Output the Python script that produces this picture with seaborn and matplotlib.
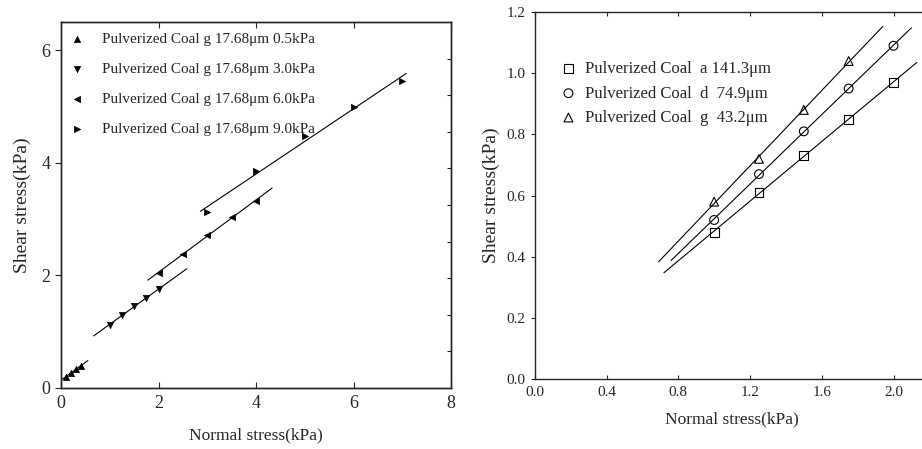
import numpy as np
import pandas as pd
import seaborn as sns
import matplotlib
matplotlib.use("Agg")
import matplotlib.pyplot as plt

# left panel: g coal at four consolidation loads
left_labels = ["Pulverized Coal g 17.68\u03bcm 0.5kPa",
               "Pulverized Coal g 17.68\u03bcm 3.0kPa",
               "Pulverized Coal g 17.68\u03bcm 6.0kPa",
               "Pulverized Coal g 17.68\u03bcm 9.0kPa"]
left_x = [[0.1, 0.2, 0.3, 0.4],
          [1.0, 1.25, 1.5, 1.75, 2.0],
          [2.0, 2.5, 3.0, 3.5, 4.0],
          [3.0, 4.0, 5.0, 6.0, 7.0]]
left_y = [[0.2, 0.27, 0.33, 0.39],
          [1.12, 1.3, 1.45, 1.6, 1.75],
          [2.04, 2.38, 2.72, 3.03, 3.32],
          [3.13, 3.85, 4.47, 4.99, 5.46]]
left_fit_range = [(-0.05, 0.55), (0.67, 2.58), (1.78, 4.33), (2.86, 7.08)]
left_markers = ["^", "v", "<", ">"]

# right panel: three coals at 0.5kPa
right_labels = ["Pulverized Coal  a 141.3\u03bcm",
                "Pulverized Coal  d  74.9\u03bcm",
                "Pulverized Coal  g  43.2\u03bcm"]
right_x = [[1.0, 1.25, 1.5, 1.75, 2.0],
           [1.0, 1.25, 1.5, 1.75, 2.0],
           [1.0, 1.25, 1.5, 1.75]]
right_y = [[0.48, 0.61, 0.73, 0.85, 0.97],
           [0.52, 0.67, 0.81, 0.95, 1.09],
           [0.58, 0.72, 0.88, 1.04]]
right_fit_range = [(0.72, 2.13), (0.76, 2.10), (0.69, 1.94)]
right_markers = ["s", "o", "^"]

sns.set_style("ticks")
plt.rcParams["font.family"] = ["Liberation Serif", "DejaVu Serif"]

fig = plt.figure(figsize=(9.22, 4.49), dpi=100)
ax1 = fig.add_axes([0.0662, 0.1359, 0.423, 0.815])
ax2 = fig.add_axes([0.580, 0.156, 0.428, 0.817])


def fit_line(ax, xs, ys, rng):
    k, b = np.polyfit(xs, ys, 1)
    fx = np.array(rng)
    sns.lineplot(x=fx, y=k * fx + b, ax=ax, color="black", lw=0.8)


for xs, ys, rng, m, lab in zip(left_x, left_y, left_fit_range, left_markers, left_labels):
    df = pd.DataFrame({"x": xs, "y": ys})
    sns.scatterplot(data=df, x="x", y="y", ax=ax1, marker=m, color="black",
                    s=20, edgecolor="black", linewidth=0.5, label=lab, zorder=3)
    fit_line(ax1, xs, ys, rng)

for xs, ys, rng, m, lab in zip(right_x, right_y, right_fit_range, right_markers, right_labels):
    df = pd.DataFrame({"x": xs, "y": ys})
    sns.scatterplot(data=df, x="x", y="y", ax=ax2, marker=m, facecolor="none",
                    s=40, edgecolor="black", linewidth=0.8, label=lab, zorder=3)
    fit_line(ax2, xs, ys, rng)

# left axes styling
ax1.set_xlim(0, 8)
ax1.set_ylim(0, 6.5)
ax1.set_xticks([0, 2, 4, 6, 8])
ax1.set_yticks([0, 2, 4, 6])
ax1.tick_params(axis="x", direction="in", top=True, labelsize=13, length=4, pad=5)
ax1.tick_params(axis="y", direction="out", labelsize=13, length=4)
ax1.set_xlabel("Normal stress(kPa)", fontsize=12.5, labelpad=11)
ax1.set_ylabel("Shear stress(kPa)", fontsize=14, labelpad=8)
rax = ax1.twinx()
rax.set_ylim(0, 6.5)
rax.set_yticks(np.arange(0.65, 6.5, 0.65))
rax.tick_params(axis="y", direction="in", length=3, labelright=False)
for a in (ax1, rax):
    for sp in a.spines.values():
        sp.set_linewidth(1.0)
        sp.set_visible(True)

ax1.legend(loc="upper left", frameon=False, fontsize=11, handletextpad=1.3,
           labelspacing=1.06, borderaxespad=0.3, handlelength=0.7)

# right axes styling
ax2.set_xlim(0, 2.2)
ax2.set_ylim(0, 1.2)
ax2.set_xticks([0.0, 0.4, 0.8, 1.2, 1.6, 2.0])
ax2.set_yticks([0.0, 0.2, 0.4, 0.6, 0.8, 1.0, 1.2])
ax2.xaxis.set_major_formatter(matplotlib.ticker.FormatStrFormatter("%.1f"))
ax2.yaxis.set_major_formatter(matplotlib.ticker.FormatStrFormatter("%.1f"))
ax2.tick_params(axis="x", direction="in", top=True, labelsize=11, length=3, pad=5)
ax2.tick_params(axis="y", direction="out", labelsize=11, length=3)
ax2.set_xlabel("Normal stress(kPa)", fontsize=12.5, labelpad=9)
ax2.set_ylabel("Shear stress(kPa)", fontsize=14, labelpad=5)
for sp in ax2.spines.values():
    sp.set_visible(True)
    sp.set_linewidth(1.0)

ax2.legend(loc="upper left", bbox_to_anchor=(0.022, 0.907), frameon=False, fontsize=12,
           handletextpad=0.4, labelspacing=0.5, handlelength=1.2)

fig.savefig("out.png", dpi=100)
